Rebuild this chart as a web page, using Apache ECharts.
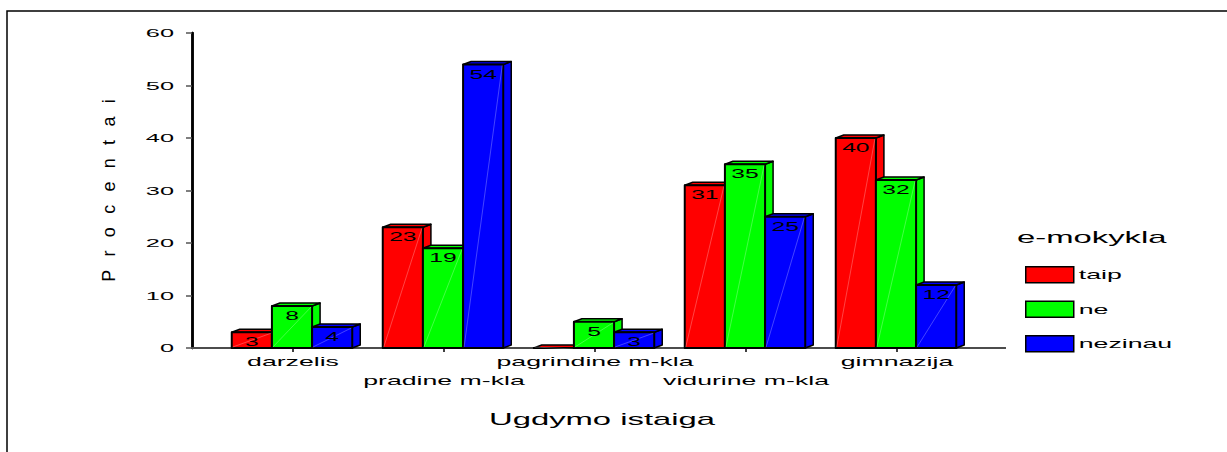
<!DOCTYPE html>
<html>
<head>
<meta charset="utf-8">
<title>e-mokykla</title>
<script src="https://cdn.jsdelivr.net/npm/echarts@6/dist/echarts.min.js"></script>
<style>
  html, body { margin: 0; padding: 0; background: #fff; }
  #main { width: 1227px; height: 452px; }
</style>
</head>
<body>
<div id="main"></div>
<script>
var categories = ['darzelis', 'pradine m-kla', 'pagrindine m-kla', 'vidurine m-kla', 'gimnazija'];
var taip = [3, 23, 0, 31, 40];
var ne = [8, 19, 5, 35, 32];
var nezinau = [4, 54, 3, 25, 12];
var yTicks = [0, 10, 20, 30, 40, 50, 60];

var seriesNames = ['taip', 'ne', 'nezinau'];
var seriesColors = ['#ff0000', '#00ff00', '#0000ff'];
var seriesData = [taip, ne, nezinau];

var FONT = "'Liberation Sans', Arial, sans-serif";

// 3d looking bar, like the old SPSS charts
function barRenderer(s) {
  return function (params, api) {
    var i = api.value(0);
    var v = api.value(1);
    var top = api.coord([i, v]);
    var base = api.coord([i, 0]);
    var band = api.size([1, 0])[0];
    var w = band * 0.266;
    var x0 = top[0] - 1.5 * w + s * w - 1;
    var dx = 8, dy = 3;
    var yT = top[1], yB = base[1];
    var fill = api.visual('color');
    var edge = { stroke: '#000', lineWidth: 1.5, lineJoin: 'round' };
    var children = [
      {
        type: 'polygon',
        shape: { points: [[x0 + w, yT], [x0 + w + dx, yT - dy], [x0 + w + dx, yB - dy], [x0 + w, yB]] },
        style: Object.assign({ fill: fill }, edge)
      },
      {
        type: 'polygon',
        shape: { points: [[x0, yT], [x0 + dx, yT - dy], [x0 + w + dx, yT - dy], [x0 + w, yT]] },
        style: Object.assign({ fill: fill }, edge)
      },
      {
        type: 'rect',
        shape: { x: x0, y: yT, width: w, height: yB - yT },
        style: Object.assign({ fill: fill }, edge, { lineWidth: 2 })
      },
      {
        type: 'line',
        shape: { x1: x0 + 1, y1: yB - 1, x2: x0 + w - 1, y2: yT + 1 },
        style: { stroke: 'rgba(255,255,255,0.45)', lineWidth: 0.6 }
      }
    ];
    if (v > 0) {
      children.push({
        type: 'text',
        x: x0 + w / 2,
        y: yT + 10,
        style: {
          text: String(v),
          fill: '#000',
          font: '12px ' + FONT,
          align: 'center',
          verticalAlign: 'middle'
        }
      });
    }
    return { type: 'group', children: children };
  };
}

var chart = echarts.init(document.getElementById('main'), null, { renderer: 'svg' });

chart.setOption({
  animation: false,
  textStyle: { fontFamily: FONT },
  title: {
    text: 'e-mokykla',
    left: 1017,
    top: 229,
    padding: 0,
    textStyle: { fontSize: 17, fontWeight: 'normal', color: '#000', fontFamily: FONT }
  },
  legend: {
    data: seriesNames,
    orient: 'vertical',
    left: 1025,
    top: 266,
    padding: 0,
    itemWidth: 48,
    itemHeight: 16,
    itemGap: 17,
    icon: 'rect',
    itemStyle: { borderColor: '#000', borderWidth: 1.5 },
    textStyle: { fontSize: 13, color: '#000', fontFamily: FONT }
  },
  graphic: [{
    type: 'rect',
    shape: { x: 7, y: 11, width: 1400, height: 600 },
    style: { fill: 'none', stroke: '#000', lineWidth: 1.5 },
    silent: true
  }],
  grid: [
    { left: 192, right: 222, top: 33, bottom: 104 },
    { left: 217.5, right: 254.5, top: 33, bottom: 104 }
  ],
  xAxis: [
    {
      gridIndex: 0, type: 'value', min: 0, max: 1, position: 'bottom',
      axisLine: { show: true, lineStyle: { color: '#000', width: 2 } },
      axisTick: { show: false }, axisLabel: { show: false }, splitLine: { show: false }
    },
    {
      gridIndex: 0, type: 'value', min: 0, max: 1, position: 'top',
      axisLine: { show: true, lineStyle: { color: '#666', width: 1.5 } },
      axisTick: { show: false }, axisLabel: { show: false }, splitLine: { show: false }
    },
    {
      gridIndex: 1, type: 'category', data: categories,
      axisLine: { show: false },
      axisTick: { show: true, alignWithLabel: true, length: 4, lineStyle: { color: '#000', width: 1.5 } },
      axisLabel: {
        interval: 0,
        margin: 4,
        fontSize: 13,
        lineHeight: 19,
        color: '#000',
        fontFamily: FONT,
        formatter: function (value, index) {
          return index % 2 ? '\n' + value : value;
        }
      },
      name: 'Ugdymo istaiga',
      nameLocation: 'middle',
      nameGap: 63,
      nameTextStyle: { fontSize: 17, color: '#000', fontFamily: FONT, padding: [0, 0, 0, 14] }
    }
  ],
  yAxis: [
    {
      gridIndex: 0, type: 'value', position: 'left',
      min: yTicks[0], max: yTicks[yTicks.length - 1], interval: yTicks[1] - yTicks[0],
      axisLine: { show: true, lineStyle: { color: '#000', width: 2.5 } },
      axisTick: { show: true, length: 6, lineStyle: { color: '#555', width: 1.5 } },
      axisLabel: { margin: 18, fontSize: 11, color: '#000', fontFamily: FONT },
      splitLine: { show: false },
      name: 'Procentai',
      nameLocation: 'middle',
      nameGap: 74,
      nameTextStyle: { fontSize: 18, color: '#000', fontFamily: FONT }
    },
    {
      gridIndex: 0, type: 'value', position: 'right', min: 0, max: 60,
      axisLine: { show: true, lineStyle: { color: '#000', width: 2.5 } },
      axisTick: { show: false }, axisLabel: { show: false }, splitLine: { show: false }
    },
    {
      gridIndex: 1, type: 'value', min: 0, max: 60, show: false
    }
  ],
  series: seriesNames.map(function (name, s) {
    return {
      name: name,
      type: 'custom',
      xAxisIndex: 2,
      yAxisIndex: 2,
      itemStyle: { color: seriesColors[s] },
      encode: { x: 0, y: 1 },
      data: seriesData[s].map(function (v, i) { return [i, v]; }),
      renderItem: barRenderer(s)
    };
  })
});

// the reference uses a very wide, stretched font; widen the svg text to match
function stretchTexts() {
  var texts = document.querySelectorAll('#main svg text');
  texts.forEach(function (t) {
    if (t.getAttribute('data-stretched')) return;
    var str = t.textContent;
    if (!str || !str.trim()) return;
    var len = t.getComputedTextLength();
    if (!len) return;
    var size = parseFloat(getComputedStyle(t).fontSize) || 12;
    var k = 2.0, mode = 'spacingAndGlyphs';
    if (str === 'Procentai') { k = 2.4; mode = 'spacing'; }
    else if (size < 12) k = 2.3;
    else if (size < 15) k = 2.05;
    else k = 1.93;
    t.setAttribute('textLength', (len * k).toFixed(1));
    t.setAttribute('lengthAdjust', mode);
    t.setAttribute('data-stretched', '1');
  });
}
stretchTexts();
chart.on('finished', stretchTexts);
</script>
</body>
</html>
